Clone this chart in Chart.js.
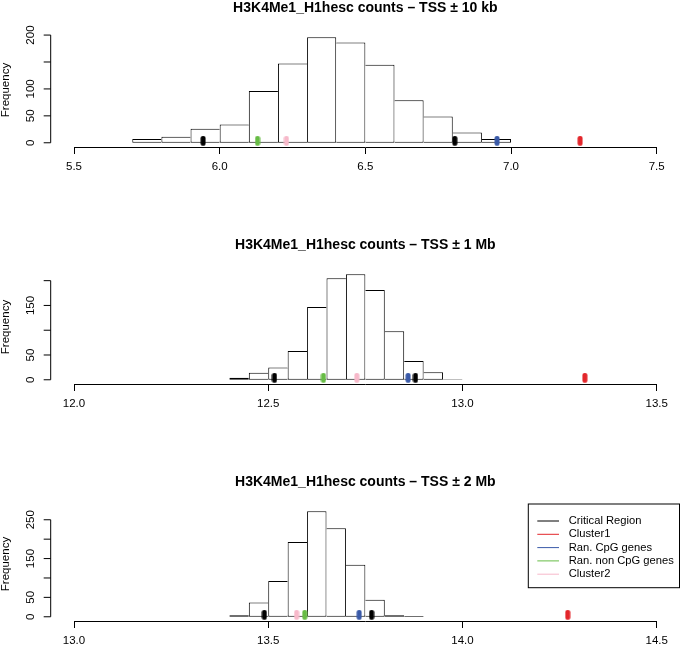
<!DOCTYPE html>
<html>
<head>
<meta charset="utf-8">
<script src="https://cdn.jsdelivr.net/npm/chart.js@4.4.0/dist/chart.umd.min.js"></script>
<style>
  html, body { margin: 0; padding: 0; background: #fff; overflow: hidden; }
  body { width: 680px; height: 646px; position: relative; }
  .panel { position: absolute; left: 0; width: 680px; height: 237px; }
</style>
</head>
<body>
<div class="panel" style="top:0px"><canvas id="g10kb"></canvas></div>
<div class="panel" style="top:237px"><canvas id="g1Mb"></canvas></div>
<div class="panel" style="top:474px"><canvas id="g2Mb"></canvas></div>
<script>
const titles = [
  "H3K4Me1_H1hesc counts \u2013 TSS \u00b1 10 kb",
  "H3K4Me1_H1hesc counts \u2013 TSS \u00b1 1 Mb",
  "H3K4Me1_H1hesc counts \u2013 TSS \u00b1 2 Mb"
];

// histogram breaks and counts
const breaks10kb = [5.7, 5.8, 5.9, 6.0, 6.1, 6.2, 6.3, 6.4, 6.5, 6.6, 6.7, 6.8, 6.9, 7.0];
const counts10kb = [7, 11, 26, 34, 96, 147, 196, 186, 145, 79, 49, 19, 7];
const breaks1Mb = [12.40, 12.45, 12.50, 12.55, 12.60, 12.65, 12.70, 12.75, 12.80, 12.85, 12.90, 12.95, 13.00];
const counts1Mb = [4, 14, 25, 58, 147, 205, 213, 181, 98, 38, 15, 1];
const breaks2Mb = [13.40, 13.45, 13.50, 13.55, 13.60, 13.65, 13.70, 13.75, 13.80, 13.85, 13.90];
const counts2Mb = [4, 37, 92, 193, 272, 228, 134, 44, 4, 2];

// axis ticks
const xTicks10kb = [5.5, 6.0, 6.5, 7.0, 7.5];
const xTicks1Mb = [12.0, 12.5, 13.0, 13.5];
const xTicks2Mb = [13.0, 13.5, 14.0, 14.5];
const yTicks10kb = [0, 50, 100, 150, 200];
const yLabels10kb = ["0", "50", "100", "", "200"];
const yTicks1Mb = [0, 50, 100, 150, 200];
const yLabels1Mb = ["0", "50", "", "150", ""];
const yTicks2Mb = [0, 50, 100, 150, 200, 250];
const yLabels2Mb = ["0", "50", "", "150", "", "250"];

// marked values (one entry per panel)
const critical = [[5.943, 6.807], [12.516, 12.879], [13.490, 13.766]];
const cluster1 = [7.237, 13.315, 14.271];
const cpgGenes = [6.952, 12.860, 13.734];
const nonCpgGenes = [6.130, 12.642, 13.594];
const cluster2 = [6.229, 12.728, 13.573];

const legendLabels = ["Critical Region", "Cluster1", "Ran. CpG genes", "Ran. non CpG genes", "Cluster2"];
const legendColors = ["#000000", "#e3262b", "#3a5aa8", "#67bc45", "#f7b9ca"];

const FONT = '"Liberation Sans", Arial, Helvetica, sans-serif';
Chart.defaults.font.family = FONT;
Chart.defaults.color = "#000";
Chart.defaults.animation = false;

// little capsule used as point glyph
function markerImage(color) {
  const c = document.createElement("canvas");
  c.width = 6; c.height = 14;
  const g = c.getContext("2d");
  g.fillStyle = color;
  g.beginPath();
  g.roundRect(0.5, 0, 5, 10, 2.5);
  g.fill();
  return c;
}
const markerImages = legendColors.map(markerImage);

// R style histogram edges: shared edges drawn once
function edgeWidths(counts, i) {
  const prev = i > 0 ? counts[i - 1] : -1;
  const next = i < counts.length - 1 ? counts[i + 1] : -1;
  return { top: 1, bottom: 1, left: counts[i] > prev ? 1 : 0, right: counts[i] >= next ? 1 : 0 };
}

const rAxis = {
  id: "rAxis",
  afterDraw(chart, args, opts) {
    const { ctx, chartArea } = chart;
    const y = chart.scales.y;
    const ax = chartArea.left - 23.3;
    const ticks = opts.ticks, labels = opts.labels;
    ctx.save();
    ctx.strokeStyle = "#000";
    ctx.lineWidth = 1;
    ctx.beginPath();
    ctx.moveTo(ax, y.getPixelForValue(ticks[0]));
    ctx.lineTo(ax, y.getPixelForValue(ticks[ticks.length - 1]));
    for (let i = 0; i < ticks.length; i++) {
      const py = y.getPixelForValue(ticks[i]);
      ctx.moveTo(ax, py);
      ctx.lineTo(ax - 7, py);
    }
    ctx.stroke();
    ctx.font = "11.5px " + FONT;
    ctx.fillStyle = "#000";
    ctx.textAlign = "center";
    ctx.textBaseline = "middle";
    for (let i = 0; i < ticks.length; i++) {
      if (!labels[i]) continue;
      ctx.save();
      ctx.translate(ax - 19.7, y.getPixelForValue(ticks[i]));
      ctx.rotate(-Math.PI / 2);
      ctx.fillText(labels[i], 0, 0);
      ctx.restore();
    }
    ctx.translate(5.5, (chartArea.top + chartArea.bottom) / 2);
    ctx.rotate(-Math.PI / 2);
    ctx.fillText("Frequency", 0, 0);
    ctx.restore();
  }
};

const rLegend = {
  id: "rLegend",
  afterDraw(chart) {
    const { ctx, chartArea } = chart;
    const left = chartArea.right - 128.4, right = chartArea.right + 22.8;
    const top = chartArea.top - 3, h = 83.7;
    ctx.save();
    ctx.strokeStyle = "#000";
    ctx.lineWidth = 1;
    ctx.strokeRect(left, top, right - left, h);
    ctx.font = "11.2px " + FONT;
    ctx.textAlign = "left";
    ctx.textBaseline = "middle";
    legendLabels.forEach((lab, i) => {
      const ry = top + 17 + 13.3 * i;
      ctx.strokeStyle = legendColors[i];
      ctx.beginPath();
      ctx.moveTo(left + 9, ry);
      ctx.lineTo(left + 30.7, ry);
      ctx.stroke();
      ctx.fillStyle = "#000";
      ctx.fillText(lab, left + 40.4, ry);
    });
    ctx.restore();
  }
};

function makePanel(id, p, breaks, counts, xTicks, yTicks, yLabels, withLegend) {
  const bars = counts.map((c, i) => ({ x: (breaks[i] + breaks[i + 1]) / 2, y: c }));
  const marks = [critical[p], [cluster1[p]], [cpgGenes[p]], [nonCpgGenes[p]], [cluster2[p]]];
  const top = Math.max(...counts);
  const datasets = marks.map((vals, k) => ({
    type: "scatter",
    label: legendLabels[k],
    data: vals.map(v => ({ x: v, y: 0 })),
    pointStyle: markerImages[k],
    pointRadius: 5,
    pointHoverRadius: 5,
    order: 0
  }));
  datasets.push({
    type: "bar",
    label: "counts",
    data: bars,
    backgroundColor: "#ffffff",
    borderColor: "#000000",
    borderWidth: ctx => edgeWidths(counts, ctx.dataIndex),
    borderSkipped: false,
    inflateAmount: 0,
    barPercentage: 1,
    categoryPercentage: 1,
    order: 1
  });
  const plugins = [rAxis];
  if (withLegend) plugins.push(rLegend);
  return new Chart(document.getElementById(id), {
    type: "bar",
    data: { datasets },
    plugins,
    options: {
      responsive: true,
      maintainAspectRatio: false,
      layout: { padding: { left: 74, right: 23.3, top: 0, bottom: 57.2 } },
      plugins: {
        legend: { display: false },
        tooltip: { enabled: false },
        title: {
          display: true,
          text: titles[p],
          fullSize: false,
          color: "#000",
          font: { size: 14, weight: "bold", lineHeight: 1.1 },
          padding: { top: 0, bottom: 17.6 }
        },
        rAxis: { ticks: yTicks, labels: yLabels }
      },
      scales: {
        x: {
          type: "linear",
          min: xTicks[0],
          max: xTicks[xTicks.length - 1],
          offset: false,
          afterBuildTicks: s => { s.ticks = xTicks.map(v => ({ value: v })); },
          ticks: {
            callback: v => Number(v).toFixed(1),
            font: { size: 11.5 },
            color: "#000",
            padding: 6,
            maxRotation: 0,
            autoSkip: false
          },
          grid: { drawOnChartArea: false, drawTicks: true, tickLength: 7, color: "#000", offset: false },
          border: { display: true, color: "#000", width: 1 }
        },
        y: {
          type: "linear",
          display: false,
          min: -0.04 * top,
          max: 1.04 * top
        }
      }
    }
  });
}

makePanel("g10kb", 0, breaks10kb, counts10kb, xTicks10kb, yTicks10kb, yLabels10kb, false);
makePanel("g1Mb", 1, breaks1Mb, counts1Mb, xTicks1Mb, yTicks1Mb, yLabels1Mb, false);
makePanel("g2Mb", 2, breaks2Mb, counts2Mb, xTicks2Mb, yTicks2Mb, yLabels2Mb, true);
</script>
</body>
</html>
